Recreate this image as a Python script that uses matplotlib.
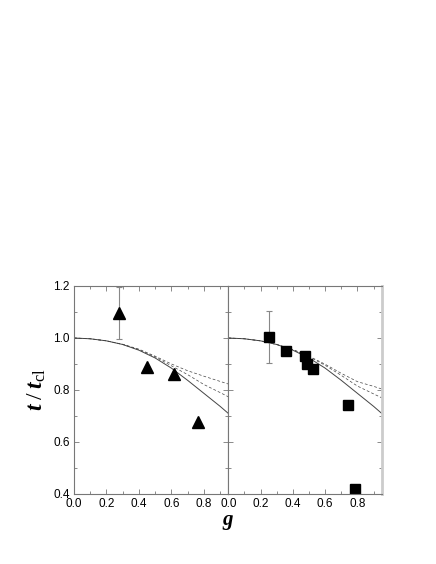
import numpy as np
import matplotlib
matplotlib.use('Agg')
import matplotlib.pyplot as plt
from matplotlib.ticker import MultipleLocator

plt.rcParams['font.family'] = 'Liberation Sans'
plt.rcParams['mathtext.fontset'] = 'custom'
plt.rcParams['mathtext.rm'] = 'Liberation Serif'
plt.rcParams['mathtext.it'] = 'Liberation Serif:italic'
plt.rcParams['mathtext.bf'] = 'Liberation Serif:bold'
plt.rcParams['mathtext.bfit'] = 'Liberation Serif:italic:bold'

# theory curves
g_curve = [0, 0.1, 0.2, 0.3, 0.4, 0.5, 0.6, 0.7, 0.8, 0.9, 0.95]
solid = [1.000, 0.997, 0.989, 0.975, 0.953, 0.923, 0.884, 0.837, 0.787, 0.737, 0.710]
dash_low_left = [1.000, 0.997, 0.989, 0.975, 0.955, 0.927, 0.893, 0.859, 0.821, 0.790, 0.774]
dash_up_left = [1.000, 0.997, 0.989, 0.976, 0.957, 0.930, 0.900, 0.874, 0.853, 0.833, 0.823]
dash_low_right = [1.000, 0.997, 0.989, 0.975, 0.955, 0.928, 0.895, 0.856, 0.815, 0.785, 0.770]
dash_up_right = [1.000, 0.997, 0.989, 0.975, 0.956, 0.930, 0.899, 0.864, 0.832, 0.814, 0.804]

# data points
g_tri = [0.28, 0.449, 0.613, 0.763]
t_tri = [1.095, 0.89, 0.862, 0.678]
err_tri = [0.1, 0, 0, 0]

g_sq = [0.253, 0.356, 0.473, 0.488, 0.525, 0.739, 0.786]
t_sq = [1.004, 0.951, 0.93, 0.899, 0.88, 0.743, 0.42]
err_sq = [0.1, 0, 0, 0, 0, 0, 0]

W, H = 436, 564
fig = plt.figure(figsize=(W / 100, H / 100), dpi=100)
ax1 = fig.add_axes([74 / W, 1 - 494 / H, 154.3 / W, 208 / H])
ax2 = fig.add_axes([228.3 / W, 1 - 494 / H, 153.4 / W, 208 / H])

line_col = '#444444'
for ax, dl, du in [(ax1, dash_low_left, dash_up_left), (ax2, dash_low_right, dash_up_right)]:
    ax.plot(g_curve, solid, color=line_col, lw=0.7)
    ax.plot(g_curve, dl, color=line_col, lw=0.5, dashes=(4, 3))
    ax.plot(g_curve, du, color=line_col, lw=0.5, dashes=(4, 3))
    ax.set_xlim(0, 0.95)
    ax.set_ylim(0.4, 1.2)
    ax.xaxis.set_major_locator(MultipleLocator(0.2))
    ax.xaxis.set_minor_locator(MultipleLocator(0.1))
    ax.yaxis.set_major_locator(MultipleLocator(0.2))
    ax.yaxis.set_minor_locator(MultipleLocator(0.1))
    ax.tick_params(which='major', direction='in', top=True, right=True,
                   length=3.5, width=0.6, color='#777777', labelsize=8.5, pad=3)
    ax.tick_params(which='minor', direction='in', top=True, right=True,
                   length=2.5, width=0.6, color='#777777')
    for s in ax.spines.values():
        s.set_color('#777777')
        s.set_linewidth(0.8)
    ax.xaxis.set_major_formatter(matplotlib.ticker.FormatStrFormatter('%.1f'))
    ax.yaxis.set_major_formatter(matplotlib.ticker.FormatStrFormatter('%.1f'))

# errorbars then markers
ax1.errorbar(g_tri, t_tri, yerr=[e if e > 0 else np.nan for e in err_tri], fmt='none',
             ecolor='#888888', elinewidth=0.8, capsize=2.5, capthick=0.8)
ax1.plot(g_tri, t_tri, '^', color='black', markersize=8, linestyle='none')

ax2.errorbar(g_sq, t_sq, yerr=[e if e > 0 else np.nan for e in err_sq], fmt='none',
             ecolor='#888888', elinewidth=0.8, capsize=2.5, capthick=0.8)
ax2.plot(g_sq, t_sq, 's', color='black', markersize=6.5, linestyle='none')

ax2.tick_params(labelleft=False)
ax2.spines['right'].set_color('#cccccc')
ax2.spines['right'].set_linewidth(2)

ax1.set_ylabel(r'$\mathbfit{t}\;/\;\mathbfit{t}_{\mathrm{cl}}$', fontsize=17, labelpad=4)
fig.text(228 / W, 1 - 522 / H, r'$\mathbfit{g}$', fontsize=15, ha='center', va='center')

fig.savefig('out.png', dpi=100)
